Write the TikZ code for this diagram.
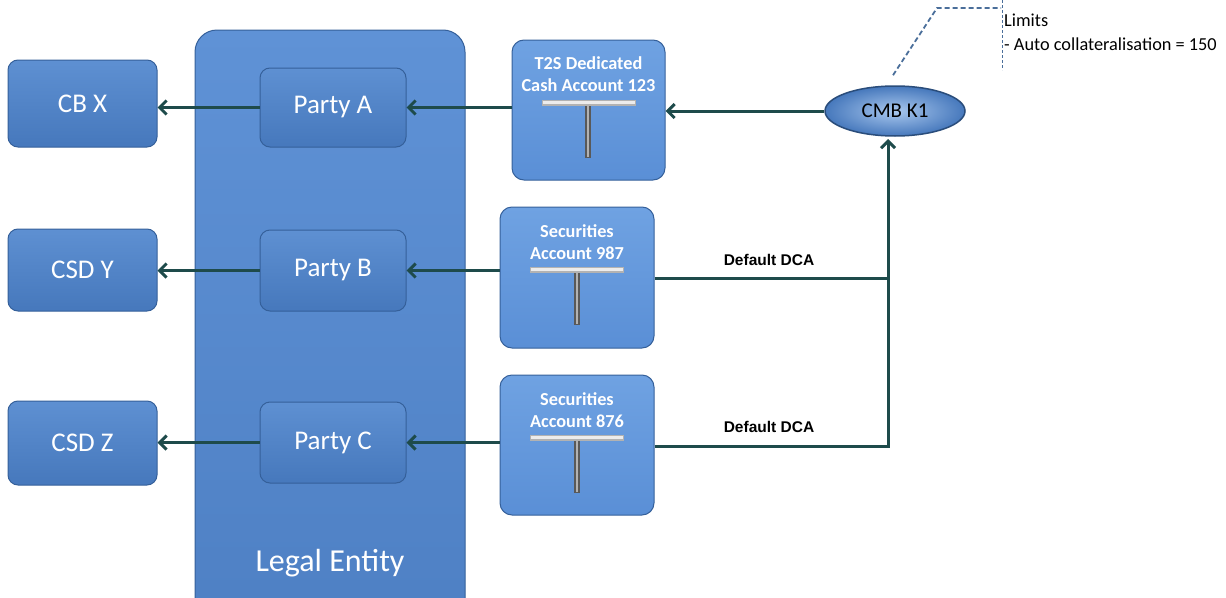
\documentclass[tikz,border=0pt]{standalone}
\usepackage{fontspec}
\setmainfont{Carlito}
\newfontfamily\boldsans{Liberation Sans}
\usetikzlibrary{arrows.meta,shapes.geometric,calc}
\definecolor{boxfill}{HTML}{4678BC}
\definecolor{boxtop}{HTML}{5E90D2}
\definecolor{boxedge}{HTML}{35609A}
\definecolor{accfill}{HTML}{5A8FD6}
\definecolor{acctop}{HTML}{6FA2E2}
\definecolor{lefill}{HTML}{4E80C4}
\definecolor{letop}{HTML}{5F92D6}
\definecolor{conncol}{HTML}{1E4B4B}
\definecolor{dashcol}{HTML}{4A6E9A}
\tikzset{
  x=1pt,y=1pt,
  bluebox/.style={draw=boxedge,line width=1pt,rounded corners=10pt,top color=boxtop,bottom color=boxfill,
     text=white,font=\fontsize{27}{30}\selectfont,inner sep=0pt},
  accbox/.style={draw=boxedge,line width=1pt,rounded corners=12pt,top color=acctop,bottom color=accfill,inner sep=0pt},
  acctext/.style={text=white,font=\bfseries\fontsize{18.3}{21.5}\selectfont,align=center,anchor=north,inner sep=0pt},
  conn/.style={draw=conncol,line width=3pt},
  arr/.style={conn,-{Straight Barb[length=7pt,width=14pt,line width=3pt]}},
  dcalabel/.style={font=\boldsans\bfseries\fontsize{15.5}{18}\selectfont,anchor=south,inner sep=0pt}
}
\newcommand{\tbar}[1]{%
  \fill[gray!60] ($(#1.north)+(-47,-60.5)$) rectangle ($(#1.north)+(47,-66)$);
  \fill[gray!15] ($(#1.north)+(-46,-61)$) rectangle ($(#1.north)+(46,-64)$);
  \fill[black!65] ($(#1.north)+(-3.5,-66)$) rectangle ($(#1.north)+(2.5,-118)$);
  \fill[gray!60] ($(#1.north)+(-1.5,-66)$) rectangle ($(#1.north)+(0.5,-117)$);
}
\begin{document}
\begin{tikzpicture}
\useasboundingbox (0,0) rectangle (1226,-597);
% Legal entity
\node[draw=boxedge,line width=1pt,rounded corners=22pt,top color=letop,bottom color=lefill,
  minimum width=270,minimum height=600,inner sep=0pt] (le) at (330,-330) {};
\node[text=white,font=\fontsize{32}{36}\selectfont,inner sep=0pt] (letext) at (330,-563) {Legal Entity};
% left boxes
\node[bluebox,minimum width=149,minimum height=87] (cbx) at (82.5,-103.5) {CB X};
\node[bluebox,minimum width=149,minimum height=82] (csdy) at (82.5,-270) {CSD Y};
\node[bluebox,minimum width=149,minimum height=84] (csdz) at (82.5,-443) {CSD Z};
% parties
\node[bluebox,minimum width=146,minimum height=79] (pa) at (333,-107.5) {Party A};
\node[bluebox,minimum width=146,minimum height=81] (pb) at (333,-270.5) {Party B};
\node[bluebox,minimum width=146,minimum height=81] (pc) at (333,-442.5) {Party C};
% accounts
\node[accbox,minimum width=153,minimum height=140] (t2s) at (588.5,-110) {};
\node[accbox,minimum width=154,minimum height=141] (s987) at (577,-277.5) {};
\node[accbox,minimum width=154,minimum height=140] (s876) at (577,-445) {};
\node[acctext] (t2st) at ($(t2s.north)+(0,-17)$) {T2S Dedicated\\Cash Account 123};
\node[acctext] (s987t) at ($(s987.north)+(0,-18)$) {Securities\\Account 987};
\node[acctext] (s876t) at ($(s876.north)+(0,-18)$) {Securities\\Account 876};
\tbar{t2s}
\tbar{s987}
\tbar{s876}
% CMB
\node[ellipse,draw=boxedge!80!black,line width=1.5pt,inner color=acctop!60!white,outer color=boxfill,
  minimum width=140,minimum height=50,inner sep=0pt,font=\fontsize{21}{24}\selectfont] (cmb) at (895,-111) {CMB K1};
% callout
\coordinate (c1) at (937,-8);
\coordinate (c2) at (1001,-8);
\draw[dashcol,line width=1.8pt,dash pattern=on 5pt off 3pt] ($(cmb.north)+(-2,10)$) -- (c1) -- (c2);
\coordinate (v1) at (1002,0);
\coordinate (v2) at (1002,-70);
\draw[dashcol,line width=0.8pt,dash pattern=on 3pt off 2pt] (v1) -- (v2);
\node[anchor=north west,align=left,inner sep=0pt,font=\fontsize{18.3}{24}\selectfont] (lim) at (1004,-13.5) {Limits\\- Auto collateralisation = 150};
% connectors
\draw[arr] (cmb.west) -- (cmb.west -| t2s.east);
\draw[arr] (t2s.west |- pa.east) -- (pa.east);
\draw[arr] (pa.west) -- (pa.west -| cbx.east);
\draw[arr] (s987.west |- pb.east) -- (pb.east);
\draw[arr] (pb.west) -- (pb.west -| csdy.east);
\draw[arr] (s876.west |- pc.east) -- (pc.east);
\draw[arr] (pc.west) -- (pc.west -| csdz.east);
\coordinate (j2) at (888,-446);
\coordinate (j1) at (888,-278);
\coordinate (jt) at (888,-139);
\draw[conn] (s987.east |- j1) -- (j1);
\draw[arr] (s876.east |- j2) -- (j2) -- (jt);
\node[dcalabel] (d1) at (769,-266) {Default DCA};
\node[dcalabel] (d2) at (769,-433) {Default DCA};
\end{tikzpicture}
\end{document}
